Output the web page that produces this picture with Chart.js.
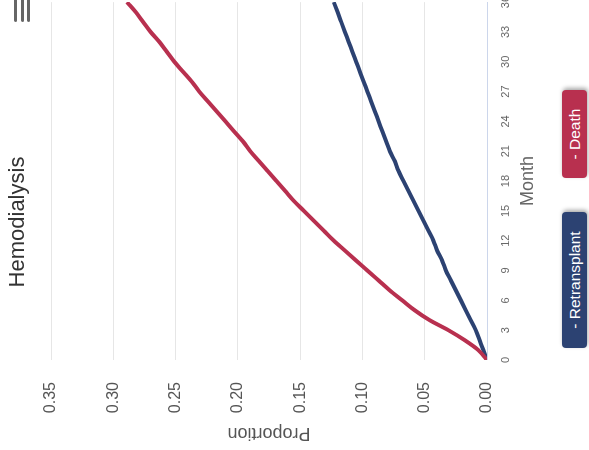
<!DOCTYPE html>
<html>
<head>
<meta charset="utf-8">
<script src="https://cdn.jsdelivr.net/npm/chart.js@4"></script>
<style>
  body { margin: 0; width: 589px; height: 450px; overflow: hidden; background: #fff; font-family: "Liberation Sans", Arial, sans-serif; }
  /* the whole chart is drawn upright (450 x 589) and then turned a quarter to the left */
  #turned { position: absolute; left: 0; top: 450px; width: 450px; height: 589px; overflow: hidden;
            transform-origin: 0 0; transform: rotate(-90deg); background: #fff; }
  #box { position: absolute; left: 0; top: 0; width: 466px; height: 539px; }
  #title { position: absolute; top: 4px; left: 128px; width: 200px; text-align: center; font-size: 22px; color: #333; }
  #menu { position: absolute; left: 428px; top: 14px; width: 26px; }
  #menu span { display: block; height: 3px; background: #666; border-radius: 2px; margin-bottom: 3.5px; }
  #legend { position: absolute; left: 102px; top: 562px; display: flex; gap: 34px; }
  .leg { height: 25px; line-height: 25px; text-align: center; color: #fff; font-size: 15.5px;
         border-radius: 4px; box-shadow: 2px 1px 4px rgba(0,0,0,0.35); }
</style>
</head>
<body>
<div id="turned">
  <div id="box"><canvas id="myChart"></canvas></div>
  <div id="title">Hemodialysis</div>
  <div id="menu"><span></span><span></span><span></span></div>
  <div id="legend"></div>
</div>
<script>
// values, one per month
const months = [0,1,2,3,4,5,6,7,8,9,10,11,12,13,14,15,16,17,18,19,20,21,22,23,24,25,26,27,28,29,30,31,32,33,34,35,36];
const retransplant = [0,0.003,0.006,0.009,0.013,0.017,0.021,0.025,0.029,0.033,0.036,0.040,0.043,0.047,0.051,0.055,0.059,0.063,0.067,0.071,0.074,0.078,0.081,0.084,0.087,0.090,0.093,0.096,0.099,0.102,0.105,0.108,0.111,0.114,0.117,0.120,0.123];
const death = [0,0.007,0.018,0.031,0.046,0.058,0.068,0.078,0.087,0.096,0.105,0.114,0.123,0.131,0.139,0.147,0.155,0.162,0.169,0.176,0.183,0.190,0.196,0.203,0.210,0.217,0.224,0.231,0.237,0.244,0.251,0.257,0.263,0.270,0.276,0.282,0.289];
const monthTicks = [0,3,6,9,12,15,18,21,24,27,30,33,36];
const proportionTicks = [0,0.05,0.10,0.15,0.20,0.25,0.30,0.35];
const seriesNames = ['Retransplant', 'Death'];
const seriesColors = ['#2c4272', '#b8304f'];

// legend buttons under the chart
const legendWidths = [136, 88];
const legend = document.getElementById('legend');
seriesNames.forEach((name, i) => {
  const d = document.createElement('div');
  d.className = 'leg';
  d.textContent = '- ' + name;
  d.style.background = seriesColors[i];
  d.style.width = legendWidths[i] + 'px';
  legend.appendChild(d);
});

const ctx1 = document.getElementById('myChart').getContext('2d');
const seriesData = [retransplant, death];

const myChart = new Chart(ctx1, {
  type: 'line',
  data: {
    datasets: seriesNames.map((name, i) => ({
      label: name,
      data: months.map((m, j) => ({ x: m, y: seriesData[i][j] })),
      borderColor: seriesColors[i],
      borderWidth: 4,
      pointRadius: 0,
      fill: false,
      cubicInterpolationMode: 'monotone',
      order: 1 - i
    }))
  },
  options: {
    responsive: true,
    maintainAspectRatio: false,
    animation: false,
    layout: { padding: { top: 51, right: 7, bottom: 0, left: 0 } },
    plugins: { legend: { display: false }, tooltip: { enabled: false } },
    scales: {
      x: {
        type: 'linear',
        min: 0,
        max: 36,
        afterBuildTicks: s => { s.ticks = monthTicks.map(v => ({ value: v })); },
        afterFit: s => { s.height = 52; },
        grid: { display: false, drawTicks: false },
        border: { display: true, color: '#ccd6eb', width: 1 },
        ticks: { padding: 12, color: '#666', font: { size: 11, family: '"Liberation Sans", Arial' }, maxRotation: 0, autoSkip: false },
        title: { display: true, text: 'Month', color: '#666', font: { size: 18, family: '"Liberation Sans", Arial' }, padding: { top: 0, bottom: 0 } }
      },
      y: {
        min: 0,
        max: 0.35,
        afterBuildTicks: s => { s.ticks = proportionTicks.map(v => ({ value: v })); },
        afterFit: s => { s.width = 90; },
        grid: { color: '#e6e6e6', drawTicks: false },
        border: { display: false },
        ticks: { padding: 22, color: '#555', font: { size: 16, family: '"Liberation Sans", Arial' }, callback: v => v.toFixed(2) },
        title: { display: true, text: 'Proportion', color: '#555', font: { size: 18, family: '"Liberation Sans", Arial' }, padding: { top: 6, bottom: 0 } }
      }
    }
  }
});
</script>
</body>
</html>
